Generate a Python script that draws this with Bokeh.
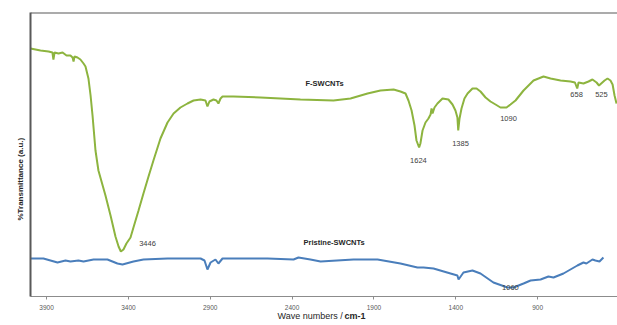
from bokeh.plotting import figure
from bokeh.models import Range1d, FixedTicker, Label, Span, Title
from bokeh.embed import file_html
from bokeh.resources import INLINE

# F-SWCNTs spectrum (wavenumber cm-1, transmittance a.u.)
f_wn = [3998, 3937, 3888, 3864, 3858, 3851, 3827, 3802, 3778, 3754, 3741, 3735, 3729, 3711,
        3693, 3674, 3662, 3644, 3631, 3619, 3601, 3583, 3540, 3509, 3479, 3460, 3446, 3430,
        3412, 3387, 3369, 3338, 3308, 3277, 3247, 3204, 3161, 3124, 3082, 3039, 3002, 2959,
        2929, 2917, 2905, 2880, 2862, 2850, 2837, 2825, 2758, 2593, 2349, 2147, 2043, 1939,
        1860, 1780, 1738, 1707, 1689, 1670, 1652, 1640, 1624, 1616, 1603, 1585, 1567, 1554,
        1548, 1542, 1530, 1512, 1481, 1445, 1420, 1402, 1390, 1385, 1377, 1365, 1347, 1328,
        1298, 1273, 1249, 1218, 1188, 1157, 1127, 1090, 1066, 1035, 986, 925, 864, 821, 760,
        699, 672, 658, 650, 620, 589, 565, 540, 525, 491, 473, 455, 442, 430, 418]
f_t = [248, 246, 245, 244, 237, 244, 243, 244, 241, 241, 239, 235, 240, 239,
       237, 233, 230, 218, 201, 181, 146, 126, 101, 81, 60, 50, 45, 47,
       53, 59, 69, 86, 103, 120, 136, 158, 174, 183, 189, 193, 196, 197,
       196, 190, 195, 197, 196, 193, 198, 200, 200, 199, 197, 196, 198, 203,
       206, 207, 205, 203, 196, 186, 171, 156, 149, 153, 166, 174, 178, 182,
       188, 183, 189, 193, 198, 197, 192, 186, 179, 166, 178, 188, 198, 203,
       208, 208, 205, 199, 195, 192, 189, 189, 192, 196, 206, 216, 220, 218, 216,
       215, 214, 208, 214, 213, 215, 217, 214, 211, 216, 218, 216, 212, 201, 193]

# Pristine-SWCNTs spectrum
p_wn = [3998, 3919, 3876, 3833, 3784, 3754, 3705, 3674, 3613, 3528, 3467, 3436, 3369, 3308,
        3161, 2959, 2935, 2917, 2898, 2868, 2850, 2825, 2550, 2391, 2361, 2288, 2226, 2025,
        1878, 1738, 1634, 1597, 1536, 1432, 1390, 1383, 1353, 1298, 1249, 1170, 1084, 1047,
        986, 943, 882, 834, 803, 742, 657, 620, 602, 565, 547, 522, 498]
p_t = [38, 38, 36, 34, 36, 35, 36, 35, 37, 37, 33, 32, 35, 37,
       38, 38, 36, 27, 34, 37, 33, 38, 38, 37, 39, 37, 35, 37,
       37, 33, 29, 29, 28, 23, 21, 17, 24, 26, 23, 14, 9, 9,
       13, 16, 17, 20, 19, 23, 31, 34, 33, 37, 36, 35, 39]

# peak labels
f_peaks = ["3446", "1624", "1385", "1090", "658", "525"]
f_peak_wn = [3283, 1628, 1371, 1078, 662, 510]
f_peak_t = [53, 136, 153, 178, 202, 202]
p_peaks = ["1060"]
p_peak_wn = [1066]
p_peak_t = [9]

x_ticks = [3900, 3400, 2900, 2400, 1900, 1400, 900]

GREEN = "#8DB43F"
BLUE = "#4A7EBB"

p = figure(width=617, height=325, output_backend="svg", toolbar_location=None,
           x_range=Range1d(3998, 412), y_range=Range1d(0, 284),
           min_border_left=30, min_border_right=0, min_border_top=12, min_border_bottom=29)
p.background_fill_color = "white"
p.border_fill_color = "white"
p.outline_line_color = None
p.grid.visible = False

p.line(f_wn, f_t, line_color=GREEN, line_width=2)
p.line(p_wn, p_t, line_color=BLUE, line_width=2)

xa = p.xaxis[0]
xa.ticker = FixedTicker(ticks=x_ticks)
xa.axis_line_color = "#8C8C8C"
xa.axis_line_width = 1
xa.major_tick_line_color = "#8C8C8C"
xa.major_tick_out = 3
xa.major_tick_in = 0
xa.minor_tick_line_color = None
xa.minor_tick_out = 0
xa.major_label_text_font = "Liberation Sans"
xa.major_label_text_font_size = "6.5px"
xa.major_label_text_color = "#595959"
xa.major_label_standoff = 5

ya = p.yaxis[0]
ya.ticker = FixedTicker(ticks=[])
ya.axis_line_color = "#595959"
ya.axis_line_width = 2
ya.major_tick_line_color = None
ya.minor_tick_line_color = None
ya.major_tick_out = 0
ya.minor_tick_out = 0

p.add_layout(Span(location=284, dimension="width", line_color="#595959", line_width=2))

lab_font = "Liberation Sans"
for t, x, y in zip(f_peaks, f_peak_wn, f_peak_t):
    p.add_layout(Label(x=x, y=y, text=t, text_align="center", text_baseline="middle",
                       text_font=lab_font, text_font_size="7.5px", text_color="#404040"))
for t, x, y in zip(p_peaks, p_peak_wn, p_peak_t):
    p.add_layout(Label(x=x, y=y, text=t, text_align="center", text_baseline="middle",
                       text_font=lab_font, text_font_size="7.5px", text_color="#404040"))

p.add_layout(Label(x=2318, y=213, text="F-SWCNTs", text_align="left", text_baseline="middle",
                   text_font=lab_font, text_font_style="bold", text_font_size="7.5px",
                   text_color="#262626"))
p.add_layout(Label(x=2330, y=54, text="Pristine-SWCNTs", text_align="left", text_baseline="middle",
                   text_font=lab_font, text_font_style="bold", text_font_size="7.5px",
                   text_color="#262626"))

# axis titles
p.add_layout(Title(text="%Transmittance (a.u.)", align="left", offset=76, standoff=12,
                   text_font=lab_font, text_font_style="bold", text_font_size="8px",
                   text_color="#262626"), "left")
p.add_layout(Title(text="Wave numbers / ", align="left", offset=247, standoff=-4,
                   vertical_align="top",
                   text_font=lab_font, text_font_style="normal", text_font_size="9px",
                   text_color="#262626"), "below")
p.add_layout(Title(text="cm-1", align="left", offset=314, standoff=-20,
                   vertical_align="top",
                   text_font=lab_font, text_font_style="bold", text_font_size="9px",
                   text_color="#262626"), "below")

open("out.html", "w").write(file_html(p, INLINE))
